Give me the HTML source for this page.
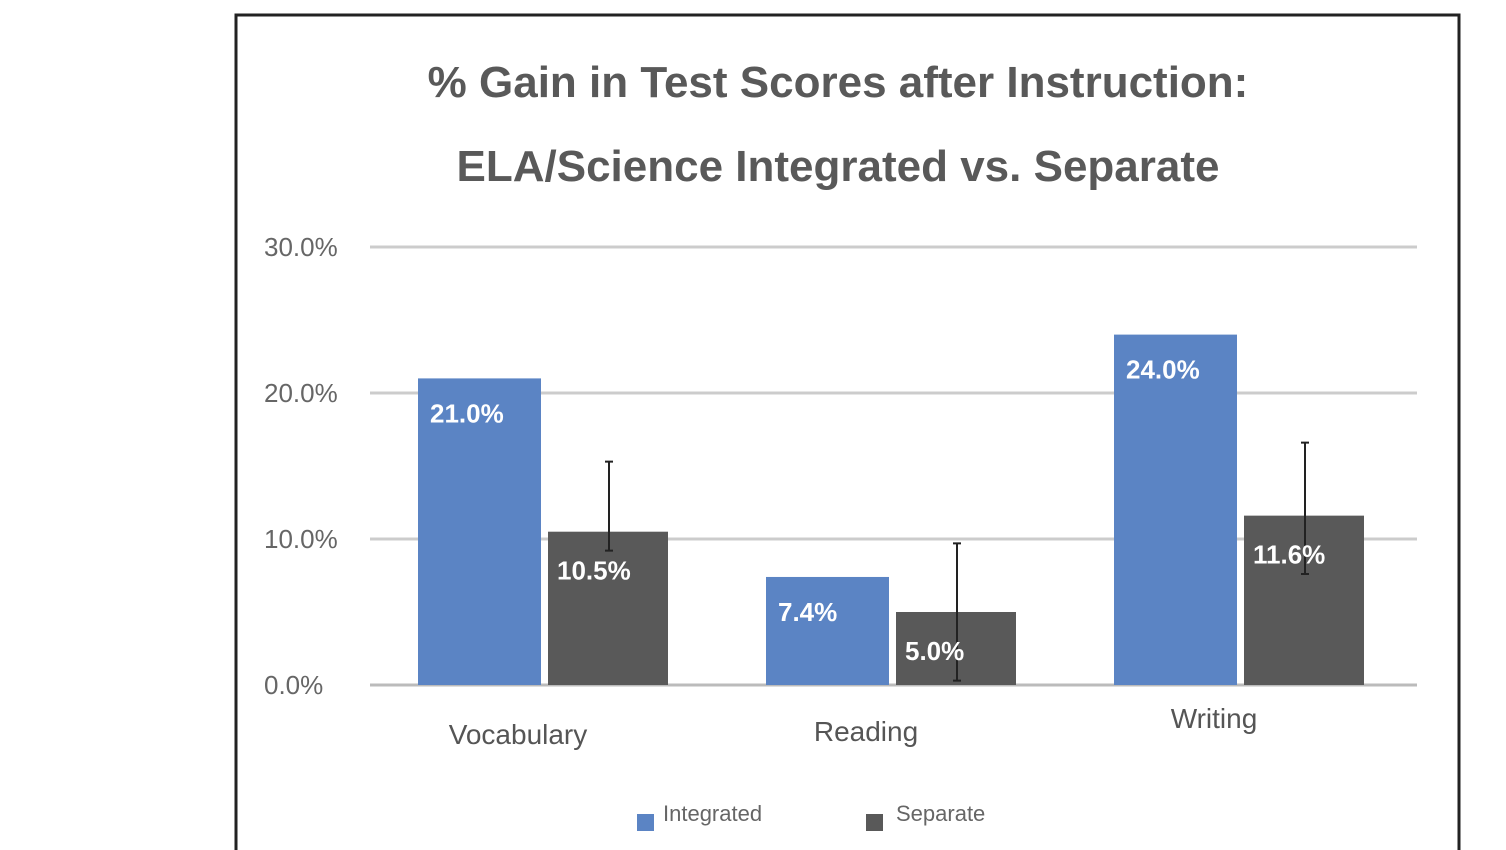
<!DOCTYPE html>
<html><head><meta charset="utf-8"><style>
html,body{margin:0;padding:0;background:#fff;width:1506px;height:850px;overflow:hidden}
svg{display:block;font-family:"Liberation Sans",sans-serif}
</style></head><body>
<svg id="chart" width="1506" height="850">
<rect x="236" y="15" width="1223" height="850" fill="#fff" stroke="#222" stroke-width="3"/>
<text x="838" y="97" text-anchor="middle" font-size="44" font-weight="bold" fill="#595959">% Gain in Test Scores after Instruction:</text>
<text x="838" y="181" text-anchor="middle" font-size="44" font-weight="bold" fill="#595959">ELA/Science Integrated vs. Separate</text>
<g id="grid"></g><g id="bars"></g><g id="labels"></g>
<g>
<rect x="637" y="814" width="17" height="17" fill="#5b84c4"/>
<text x="663" y="821" font-size="22" fill="#666">Integrated</text>
<rect x="866" y="814" width="17" height="17" fill="#595959"/>
<text x="896" y="821" font-size="22" fill="#666">Separate</text>
</g>
</svg>
<script>
const categories=["Vocabulary","Reading","Writing"];
const integrated=[21.0,7.4,24.0];
const separate=[10.5,5.0,11.6];
const errHigh=[15.3,9.7,16.6];
const errLow=[9.2,0.3,7.6];
const ticks=[0,10,20,30];
const tickLabels=["0.0%","10.0%","20.0%","30.0%"];
const NS="http://www.w3.org/2000/svg";
const y=v=>685-v*14.6;
const groupX=i=>418+i*348;
function mk(tag,attrs,parent,txt){const e=document.createElementNS(NS,tag);for(const k in attrs)e.setAttribute(k,attrs[k]);if(txt!=null)e.textContent=txt;document.getElementById(parent).appendChild(e);return e;}
ticks.forEach((t,i)=>{
 const l=mk("line",{x1:370,x2:1417,y1:y(t),y2:y(t),stroke:t===0?"#bbb":"#ccc","stroke-width":3},"grid");
 
 
 const tx=mk("text",{x:264,y:y(t)+9,"font-size":26,fill:"#666"},"grid",tickLabels[i]);
 
 
});
categories.forEach((c,i)=>{
 const x=groupX(i);
 const b1=mk("rect",{x:x,y:y(integrated[i]),width:123,height:y(0)-y(integrated[i]),fill:"#5b84c4"},"bars");
 
 
 const b2=mk("rect",{x:x+130,y:y(separate[i]),width:120,height:y(0)-y(separate[i]),fill:"#595959"},"bars");
 
 
 const ex=x+191;
 const e=mk("path",{d:`M${ex},${y(errHigh[i])}V${y(errLow[i])}M${ex-4},${y(errHigh[i])}H${ex+4}M${ex-4},${y(errLow[i])}H${ex+4}`,stroke:"#222","stroke-width":2,fill:"none"},"bars");
 
 
 const t1=mk("text",{x:x+12,y:y(integrated[i])+44,"font-size":26,"font-weight":"bold",fill:"#fff"},"labels",integrated[i].toFixed(1)+"%");
 
 
 const t2=mk("text",{x:x+139,y:y(separate[i])+48,"font-size":26,"font-weight":"bold",fill:"#fff"},"labels",separate[i].toFixed(1)+"%");
 
 
 const cl=mk("text",{x:x+100,y:[744,741,728][i],"text-anchor":"middle","font-size":28,fill:"#555"},"labels",c);
 
 
});
</script>
</body></html>
